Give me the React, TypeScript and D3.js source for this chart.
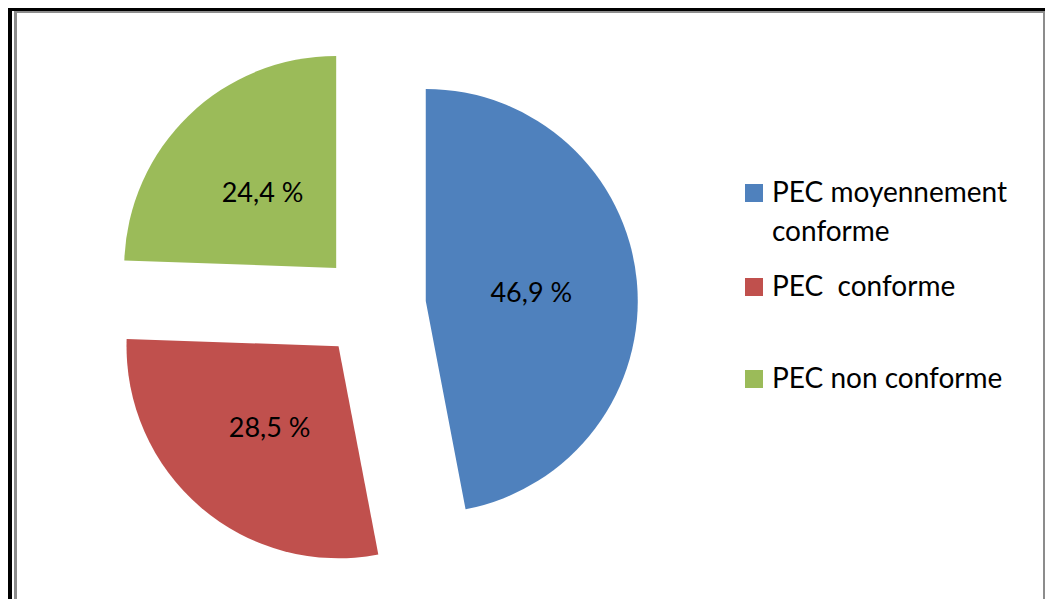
import React from 'react';
import * as d3 from 'd3';

// chart data
const categories = ['PEC moyennement conforme', 'PEC  conforme', 'PEC non conforme'];
const legendLines = [['PEC moyennement', 'conforme'], ['PEC  conforme'], ['PEC non conforme']];
const values = [46.9, 28.5, 24.4];
const labels = ['46,9 %', '28,5 %', '24,4 %'];
const colors = ['#4F81BD', '#C0504D', '#9BBB59'];

const W = 1045;
const H = 599;
const FONT = 'Lato, "Open Sans", sans-serif';

export default function App() {
  const cx = 373;
  const cy = 306;
  const radius = 212;
  const explode = 53;

  const pie = d3.pie<number>().sort(null).value(d => d);
  const arcs = pie(values);
  const arc = d3.arc<d3.PieArcDatum<number>>().innerRadius(0).outerRadius(radius);

  const legendX = 745;
  const legendRows = [184, 278, 370];

  return (
    <svg width={W} height={H} style={{ position: 'absolute', left: 0, top: 0, display: 'block', background: '#fff' }}>
      {/* frame */}
      <rect x={8} y={8} width={W - 8} height={3} fill="#000" />
      <rect x={8} y={8} width={4} height={H - 8} fill="#000" />
      <rect x={14} y={11} width={W - 14} height={2} fill="#8c8c8c" />
      <rect x={14} y={11} width={3} height={H - 11} fill="#8c8c8c" />
      <rect x={1043} y={11} width={2} height={H - 11} fill="#8c8c8c" />

      {/* slices */}
      {arcs.map((a, i) => {
        const mid = (a.startAngle + a.endAngle) / 2;
        const dx = Math.sin(mid) * explode;
        const dy = -Math.cos(mid) * explode;
        const [lx, ly] = arc.centroid(a);
        return (
          <g key={categories[i]} transform={`translate(${cx + dx},${cy + dy})`}>
            <path d={arc(a) || ''} fill={colors[i]} />
            <text x={lx} y={ly} textAnchor="middle" dominantBaseline="central"
              fontFamily={FONT} fontSize={27} fill="#000">
              {labels[i]}
            </text>
          </g>
        );
      })}

      {/* legend */}
      {legendLines.map((lines, i) => (
        <g key={i} transform={`translate(${legendX},${legendRows[i]})`}>
          <rect x={0} y={0} width={18} height={18} fill={colors[i]} />
          {lines.map((t, j) => (
            <text key={j} x={27} y={18 + j * 39} fontFamily={FONT} fontSize={28} fill="#000"
              style={{ whiteSpace: 'pre' }}>
              {t}
            </text>
          ))}
        </g>
      ))}
    </svg>
  );
}
